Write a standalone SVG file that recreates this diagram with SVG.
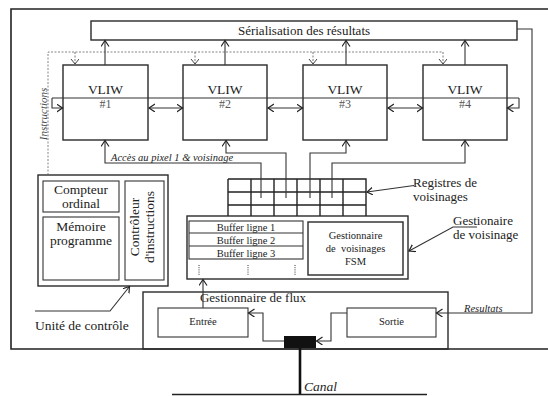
<svg xmlns="http://www.w3.org/2000/svg" width="548" height="396" viewBox="0 0 548 396" font-family="'Liberation Serif', 'Times New Roman', 'DejaVu Serif', serif">
<style>
text{font-family:'Liberation Serif','Times New Roman','DejaVu Serif',serif;fill:#222}
.b{fill:none;stroke:#2a2a2a;stroke-width:1.4}
.t{fill:none;stroke:#333;stroke-width:1.1}
.c{fill:none;stroke:#333;stroke-width:1.1;marker-end:url(#ah)}
.d{fill:none;stroke:#333;stroke-width:1.1;marker-start:url(#ah);marker-end:url(#ah)}
.dash{fill:none;stroke:#666;stroke-width:0.8;stroke-dasharray:2 1.5}
.dsh{fill:none;stroke:#555;stroke-width:0.8;stroke-dasharray:2 1.5;marker-end:url(#ahg)}
.m{font-size:13.5px}
.s{font-size:10.5px}
.i{font-style:italic}
</style>
<defs>
<marker id="ah" markerUnits="userSpaceOnUse" markerWidth="10" markerHeight="10" refX="6" refY="4" orient="auto-start-reverse">
<path d="M0,0 L6,4 L0,8" fill="none" stroke="#222" stroke-width="1.2"/>
</marker>
<marker id="ahg" markerUnits="userSpaceOnUse" markerWidth="10" markerHeight="10" refX="5" refY="4" orient="auto">
<path d="M0,0 L5,4 L0,8" fill="none" stroke="#444" stroke-width="1"/>
</marker>
</defs>

<g id="frame">
<path d="M548,9 H11 V349 H548" fill="none" stroke="#222" stroke-width="1.6"/>
</g>

<g id="serialisation">
<rect class="b" x="91" y="21" width="426" height="19"/>
<text x="304" y="34.5" text-anchor="middle" font-size="13px">Sérialisation des résultats</text>
</g>

<g id="vliw1">
<rect class="b" x="63" y="65" width="85" height="75"/>
<text class="m" x="105.5" y="94" text-anchor="middle">VLIW</text>
<text x="105.5" y="108" text-anchor="middle" font-size="12px" style="fill:#555">#1</text>
</g>
<g id="vliw2">
<rect class="b" x="183" y="65" width="84" height="75"/>
<text class="m" x="225" y="94" text-anchor="middle">VLIW</text>
<text x="225" y="108" text-anchor="middle" font-size="12px" style="fill:#555">#2</text>
</g>
<g id="vliw3">
<rect class="b" x="303" y="65" width="84" height="75"/>
<text class="m" x="345" y="94" text-anchor="middle">VLIW</text>
<text x="345" y="108" text-anchor="middle" font-size="12px" style="fill:#555">#3</text>
</g>
<g id="vliw4">
<rect class="b" x="423" y="65" width="84" height="75"/>
<text class="m" x="465" y="94" text-anchor="middle">VLIW</text>
<text x="465" y="108" text-anchor="middle" font-size="12px" style="fill:#555">#4</text>
</g>

<g id="registres">
<path d="M228,179 H366 V216 M228,192 H366 M228,205 H366 M228,179 V216 M251,179 V216 M274,179 V216 M297,179 V216 M320,179 V216 M343,179 V216" fill="none" stroke="#222" stroke-width="1.4"/>
<text x="413" y="187" font-size="13px">Registres de</text>
<text x="413" y="201" font-size="13px">voisinages</text>
</g>

<g id="buffers">
<rect class="b" x="187" y="216" width="221" height="63"/>
<rect class="t" x="189" y="221" width="114" height="38"/>
<path class="t" d="M189,233 H303 M189,246 H303"/>
<text class="s" x="246" y="231" text-anchor="middle">Buffer ligne 1</text>
<text class="s" x="246" y="243.5" text-anchor="middle">Buffer ligne 2</text>
<text class="s" x="246" y="256.5" text-anchor="middle">Buffer ligne 3</text>
<path d="M199,265 V276 M248,265 V276 M295,265 V276" fill="none" stroke="#333" stroke-width="1" stroke-dasharray="1 1.2"/>
</g>

<g id="fsm">
<rect class="b" x="308" y="222" width="95" height="53"/>
<text class="s" x="355.5" y="239" text-anchor="middle">Gestionnaire</text>
<text class="s" x="355.5" y="252" text-anchor="middle" xml:space="preserve">de  voisinages</text>
<text class="s" x="355.5" y="265" text-anchor="middle">FSM</text>
<text x="453" y="225" font-size="13px">Gestionaire</text>
<text x="453" y="239" font-size="13px">de voisinage</text>
</g>

<g id="controle">
<rect class="b" x="38" y="175" width="130" height="111"/>
<rect class="t" x="43" y="181" width="76" height="31"/>
<text class="m" x="81" y="194" text-anchor="middle">Compteur</text>
<text class="m" x="81" y="208" text-anchor="middle">ordinal</text>
<rect class="t" x="43" y="217" width="76" height="63"/>
<text class="m" x="81" y="231" text-anchor="middle">Mémoire</text>
<text class="m" x="81" y="245" text-anchor="middle">programme</text>
<rect class="t" x="125" y="181" width="39" height="99"/>
<text class="m" transform="translate(139,227) rotate(-90)" text-anchor="middle">Contrôleur</text>
<text class="m" transform="translate(154,227) rotate(-90)" text-anchor="middle">d'instructions</text>
<text x="35" y="330" font-size="13.5px">Unité de contrôle</text>
</g>

<g id="flux">
<rect class="b" x="143" y="292" width="305" height="57"/>
<text x="253" y="302" text-anchor="middle" font-size="13px">Gestionnaire de flux</text>
</g>
<g id="entree">
<rect class="t" x="158" y="308" width="90" height="29"/>
<text class="s" x="203" y="325" text-anchor="middle">Entrée</text>
</g>
<g id="sortie">
<rect class="t" x="347" y="308" width="89" height="29"/>
<text class="s" x="391.5" y="325" text-anchor="middle">Sortie</text>
</g>
<g id="canal">
<rect x="284" y="336" width="32" height="12" fill="#111"/>
<path d="M300,348 V395" stroke="#111" stroke-width="2.6" fill="none"/>
<path d="M172,394.5 H427" stroke="#222" stroke-width="1.4" fill="none"/>
<text class="i" x="304" y="391" font-size="13.5px">Canal</text>
</g>

<g id="connectors">
<path class="dash" d="M48,175 V52 H443"/>
<path class="dsh" d="M75,52 V64"/>
<path class="dsh" d="M195,52 V64"/>
<path class="dsh" d="M313,52 V64"/>
<path class="dsh" d="M443,52 V64"/>
<text class="i" transform="translate(47,114) rotate(-90)" text-anchor="middle" font-size="11px" style="fill:#444">Instructions</text>

<path class="c" d="M105,65 V40.5"/>
<path class="c" d="M225,65 V40.5"/>
<path class="c" d="M346,65 V40.5"/>
<path class="c" d="M465,65 V40.5"/>

<path class="t" d="M52,98 H519"/>
<path class="c" d="M52,98 V108 H62.5"/>
<path class="c" d="M519,98 V108 H507.5"/>
<path class="d" d="M149,108 H182.5"/>
<path class="d" d="M268,108 H302.5"/>
<path class="d" d="M388,108 H422.5"/>

<path class="c" d="M261,198 V163 H105 V140.5"/>
<path class="c" d="M286,198 V153 H226 V140.5"/>
<path class="c" d="M310,198 V153 H346 V140.5"/>
<path class="c" d="M332,198 V163 H465 V140.5"/>
<text class="i" x="111" y="161" font-size="10.5px">Accès au pixel 1 &amp; voisinage</text>

<path class="c" d="M414,185.5 L367,192"/>
<path class="c" d="M477,227 H453 L409,251"/>
<path class="c" d="M35,311 H110 L129.5,286.5"/>

<path class="c" d="M517,29 H532 V313 H436.5"/>
<text class="i" x="464" y="311.5" font-size="10.5px">Resultats</text>
<path class="c" d="M347,313 H331 V341 H316.5"/>
<path class="c" d="M284,341 H263 V313 H248.5"/>
<path class="c" d="M203,308 V279.5"/>
</g>
</svg>
